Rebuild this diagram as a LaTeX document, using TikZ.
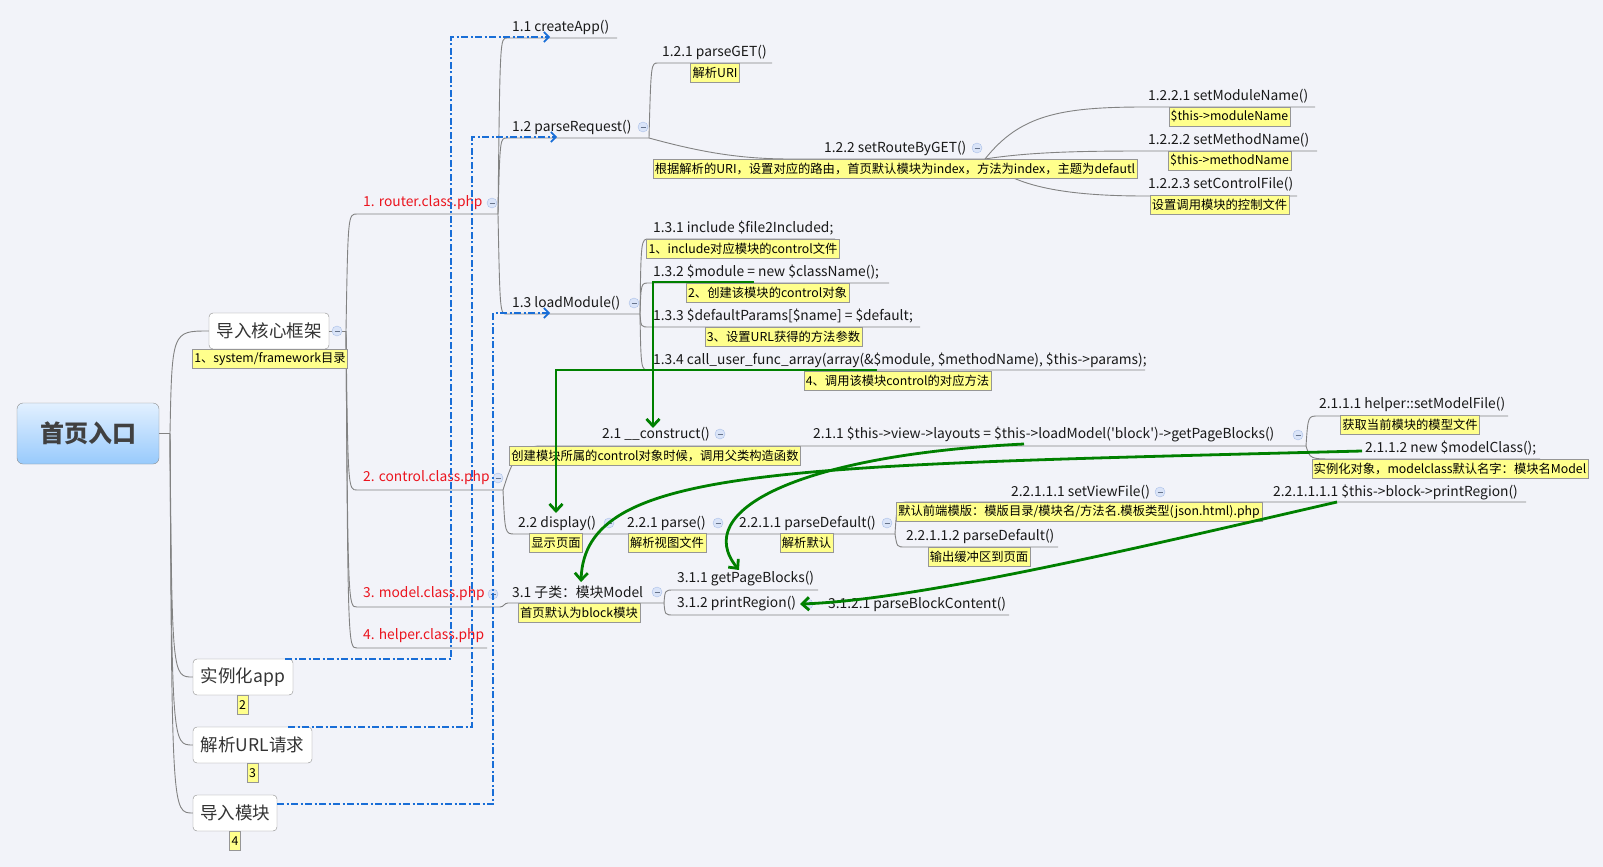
\documentclass[tikz,border=0pt]{standalone}
\usepackage{fontspec}
\setmainfont{Noto Sans CJK SC}
\usetikzlibrary{arrows.meta}

\definecolor{bgcol}{RGB}{242,243,249}
\definecolor{linegray}{RGB}{130,130,130}
\definecolor{boxline}{RGB}{140,140,140}
\definecolor{memofill}{RGB}{255,255,140}
\definecolor{memoline}{RGB}{150,150,150}
\definecolor{rootA}{RGB}{226,240,255}
\definecolor{rootB}{RGB}{152,202,252}
\definecolor{topicred}{RGB}{235,20,30}
\definecolor{linkblue}{RGB}{25,110,215}
\definecolor{flowgreen}{RGB}{0,128,0}
\definecolor{foldfill}{RGB}{218,228,248}
\definecolor{foldline}{RGB}{170,192,232}

\newcommand\fs[1]{\fontsize{#1}{#1}\selectfont}

\tikzset{
  topic/.style={anchor=west,inner sep=0pt,font=\fs{13.8},text=black!90},
  redtopic/.style={topic,text=topicred},
  memo/.style={draw=memoline,fill=memofill,inner xsep=2pt,inner ysep=0pt,minimum height=19pt,font=\fs{12.3},text=black},
  bigbox/.style={draw=boxline,fill=white,rounded corners=4pt,font=\fs{17.5},text=black!80,minimum height=36pt,inner xsep=7pt},
  fold/.style={circle,draw=foldline,fill=foldfill,minimum size=10pt,inner sep=0pt,
    path picture={\draw[foldline!60!black,line width=0.8pt] ([xshift=-2.5pt]path picture bounding box.center) -- ([xshift=2.5pt]path picture bounding box.center);}},
  branch/.style={draw=linegray,line width=0.9pt},
  dashlink/.style={draw=linkblue,line width=1.6pt,dash pattern=on 7pt off 2.5pt on 2pt off 2.5pt,-{Straight Barb[length=5pt,width=10pt]}},
  flow/.style={draw=flowgreen,line width=2.8pt,-{Straight Barb[length=7pt,width=13pt]}}
}

\begin{document}
\begin{tikzpicture}[x=1pt,y=-1pt]
\fill[bgcol] (0,0) rectangle (1603,867);
\useasboundingbox (0,0) rectangle (1603,867);

% main boxes
\node[draw=boxline,rounded corners=6pt,top color=rootA,bottom color=rootB,minimum width=142pt,minimum height=61pt,font=\fs{24}\bfseries,text=black!75] (root) at (88,433.5) {首页入口};
\node[bigbox,minimum width=120pt] (core) at (269,331) {导入核心框架};
\node[bigbox,minimum width=100pt] (app) at (243,677) {实例化app};
\node[bigbox,minimum width=119pt] (url) at (252.5,745) {解析URL请求};
\node[bigbox,minimum width=84pt] (mod) at (235,813) {导入模块};

% tree lines
\coordinate (rt) at (170,433.5);
\draw[branch] (root.east) -- (rt);
\draw[branch] (rt) .. controls (172,331) .. (core.west);
\draw[branch] (rt) .. controls (172,677) .. (app.west);
\draw[branch] (rt) .. controls (172,745) .. (url.west);
\draw[branch] (rt) .. controls (172,813) .. (mod.west);

\coordinate (ct) at (346,331);
\coordinate (u1a) at (357,214); \coordinate (u1b) at (498,214);
\coordinate (u2a) at (357,490); \coordinate (u2b) at (503,490);
\coordinate (u3a) at (357,607); \coordinate (u3b) at (500,607);
\coordinate (u4a) at (357,648); \coordinate (u4b) at (487,648);
\draw[branch] (core.east) -- (ct);
\draw[branch] (ct) .. controls (348,214) .. (u1a) -- (u1b);
\draw[branch] (ct) .. controls (348,490) .. (u2a) -- (u2b);
\draw[branch] (ct) .. controls (348,607) .. (u3a) -- (u3b);
\draw[branch] (ct) .. controls (348,648) .. (u4a) -- (u4b);

\coordinate (u11a) at (507,38); \coordinate (u11b) at (617,38);
\coordinate (u12a) at (507,138); \coordinate (u12b) at (649,138);
\coordinate (u13a) at (507,314); \coordinate (u13b) at (640,314);
\draw[branch] (u1b) .. controls (500,38) .. (u11a) -- (u11b);
\draw[branch] (u1b) .. controls (500,138) .. (u12a) -- (u12b);
\draw[branch] (u1b) .. controls (500,314) .. (u13a) -- (u13b);

\coordinate (u121a) at (658,63); \coordinate (u121b) at (772,63);
\coordinate (u122a) at (790,159); \coordinate (u122b) at (985,159);
\draw[branch] (u12b) .. controls (651,63) .. (u121a) -- (u121b);
\draw[branch] (u12b) .. controls (700,152) and (740,159) .. (u122a) -- (u122b);

\coordinate (u1221a) at (1145,107); \coordinate (u1221b) at (1315,107);
\coordinate (u1222a) at (1145,151); \coordinate (u1222b) at (1317,151);
\coordinate (u1223a) at (1145,196); \coordinate (u1223b) at (1297,196);
\draw[branch] (u122b) .. controls (1020,115) and (1060,107) .. (u1221a) -- (u1221b);
\draw[branch] (u122b) .. controls (1030,152) and (1080,151) .. (u1222a) -- (u1222b);
\draw[branch] (u122b) .. controls (1010,185) and (1060,196) .. (u1223a) -- (u1223b);

\coordinate (u131a) at (649,239); \coordinate (u131b) at (835,239);
\coordinate (u132a) at (649,283); \coordinate (u132b) at (889,283);
\coordinate (u133a) at (649,327); \coordinate (u133b) at (920,327);
\coordinate (u134a) at (649,370); \coordinate (u134b) at (1145,370);
\draw[branch] (u13b) .. controls (641,239) .. (u131a) -- (u131b);
\draw[branch] (u13b) .. controls (641,283) .. (u132a) -- (u132b);
\draw[branch] (u13b) .. controls (641,327) .. (u133a) -- (u133b);
\draw[branch] (u13b) .. controls (641,370) .. (u134a) -- (u134b);

\coordinate (u21a) at (540,446); \coordinate (u21b) at (1306,446);
\coordinate (u22a) at (515,534); \coordinate (u22b) at (895,534);
\draw[branch] (u2b) .. controls (510,468) and (516,446) .. (u21a) -- (u21b);
\draw[branch] (u2b) .. controls (505,534) .. (u22a) -- (u22b);

\coordinate (u2111a) at (1318,416); \coordinate (u2111b) at (1508,416);
\coordinate (u2112a) at (1335,459); \coordinate (u2112b) at (1540,459);
\draw[branch] (u21b) .. controls (1308,416) .. (u2111a) -- (u2111b);
\draw[branch] (u21b) .. controls (1310,459) .. (u2112a) -- (u2112b);

\coordinate (u22111a) at (910,502); \coordinate (u22111b) at (1526,502);
\coordinate (u22112a) at (905,547); \coordinate (u22112b) at (1058,547);
\draw[branch] (u22b) .. controls (897,502) .. (u22111a) -- (u22111b);
\draw[branch] (u22b) .. controls (897,547) .. (u22112a) -- (u22112b);

\coordinate (u31a) at (508,603); \coordinate (u31b) at (664,603);
\coordinate (u311a) at (674,590); \coordinate (u311b) at (818,590);
\coordinate (u312a) at (674,615); \coordinate (u312b) at (1009,615);
\draw[branch] (u3b) .. controls (504,607) and (504,603) .. (u31a) -- (u31b);
\draw[branch] (u31b) .. controls (665,590) .. (u311a) -- (u311b);
\draw[branch] (u31b) .. controls (665,615) .. (u312a) -- (u312b);

% fold marks
\node[fold] (fcore) at (337,331) {};
\node[fold] (frouter) at (492,203) {};
\node[fold] (fcontrol) at (498,478) {};
\node[fold] (fmodel) at (493,594) {};
\node[fold] (f12) at (643,127) {};
\node[fold] (f13) at (634,303) {};
\node[fold] (f122) at (977,148) {};
\node[fold] (f21) at (720,434) {};
\node[fold] (f211) at (1298,435) {};
\node[fold] (f22) at (609,523) {};
\node[fold] (f221) at (718,523) {};
\node[fold] (f2211) at (887,523) {};
\node[fold] (f22111) at (1160,492) {};
\node[fold] (f31) at (657,592) {};
\node[fold] (f312) at (808,604) {};

% topics
\node[redtopic] (router) at (363,203) {1. router.class.php};
\node[redtopic] (control) at (363,478) {2. control.class.php};
\node[redtopic] (model) at (363,594) {3. model.class.php};
\node[redtopic] (helper) at (363,636) {4. helper.class.php};
\node[topic] (t11) at (512,27) {1.1 createApp()};
\node[topic] (t12) at (512,127) {1.2 parseRequest()};
\node[topic] (t13) at (512,303) {1.3 loadModule()};
\node[topic] (t121) at (662,52) {1.2.1 parseGET()};
\node[topic] (t122) at (824,148) {1.2.2 setRouteByGET()};
\node[topic] (t1221) at (1148,96) {1.2.2.1 setModuleName()};
\node[topic] (t1222) at (1148,140) {1.2.2.2 setMethodName()};
\node[topic] (t1223) at (1148,184) {1.2.2.3 setControlFile()};
\node[topic] (t131) at (653,228) {1.3.1 include \$file2Included;};
\node[topic] (t132) at (653,272) {1.3.2 \$module = new \$className();};
\node[topic] (t133) at (653,316) {1.3.3 \$defaultParams[\$name] = \$default;};
\node[topic] (t134) at (653,360) {1.3.4 call\_user\_func\_array(array(\&\$module, \$methodName), \$this->params);};
\node[topic] (t21) at (602,434) {2.1 \_\_construct()};
\node[topic] (t211) at (813,434) {2.1.1 \$this->view->layouts = \$this->loadModel(\textquotesingle block\textquotesingle)->getPageBlocks()};
\node[topic] (t2111) at (1319,404) {2.1.1.1 helper::setModelFile()};
\node[topic] (t2112) at (1365,448) {2.1.1.2 new \$modelClass();};
\node[topic] (t22) at (518,523) {2.2 display()};
\node[topic] (t221) at (627,523) {2.2.1 parse()};
\node[topic] (t2211) at (739,523) {2.2.1.1 parseDefault()};
\node[topic] (t22111) at (1011,492) {2.2.1.1.1 setViewFile()};
\node[topic] (t22112) at (906,536) {2.2.1.1.2 parseDefault()};
\node[topic] (t221111) at (1273,492) {2.2.1.1.1.1 \$this->block->printRegion()};
\node[topic] (t31) at (512,592) {3.1 子类：模块Model};
\node[topic] (t311) at (677,579) {3.1.1 getPageBlocks()};
\node[topic] (t312) at (677,604) {3.1.2 printRegion()};
\node[topic] (t3121) at (828,604) {3.1.2.1 parseBlockContent()};

% notes
\node[memo] (n0) at (270,359) {1、system/framework目录};
\node[memo] (n2) at (242.5,705) {2};
\node[memo] (n3) at (252.5,773) {3};
\node[memo] (n4) at (235,841) {4};
\node[memo] (n121) at (715,72.5) {解析URI};
\node[memo] (n122) at (895,169) {根据解析的URI，设置对应的路由，首页默认模块为index，方法为index，主题为defautl};
\node[memo] (n1221) at (1229.5,116.5) {\$this->moduleName};
\node[memo] (n1222) at (1229.5,160.5) {\$this->methodName};
\node[memo] (n1223) at (1219.5,205) {设置调用模块的控制文件};
\node[memo] (n131) at (743,249) {1、include对应模块的control文件};
\node[memo] (n132) at (767.5,292.5) {2、创建该模块的control对象};
\node[memo] (n133) at (783.5,336.5) {3、设置URL获得的方法参数};
\node[memo] (n134) at (897.5,380.5) {4、调用该模块control的对应方法};
\node[memo] (n21) at (655,455.5) {创建模块所属的control对象时候，调用父类构造函数};
\node[memo] (n2111) at (1410,425) {获取当前模块的模型文件};
\node[memo] (n2112) at (1450,468.5) {实例化对象，modelclass默认名字：模块名Model};
\node[memo] (n22) at (556,543) {显示页面};
\node[memo] (n221) at (667,543) {解析视图文件};
\node[memo] (n2211) at (806.5,543) {解析默认};
\node[memo] (n22111) at (1079,512) {默认前端模版：模版目录/模块名/方法名.模板类型(json.html).php};
\node[memo] (n22112) at (979,557) {输出缓冲区到页面};
\node[memo] (n31) at (579,612.5) {首页默认为block模块};

% dashed links
\coordinate (a11) at (550,37);
\coordinate (a12) at (557,137);
\coordinate (a13) at (550,313);
\draw[dashlink] ([xshift=-8pt]app.north east) -- ++(166,0) |- (a11);
\draw[dashlink] ([xshift=-24pt]url.north east) -- ++(184,0) |- (a12);
\draw[dashlink] ([yshift=9pt]mod.east) -- ++(216,0) |- (a13);

% call flow
\coordinate (g1s) at (754,282); \coordinate (g1e) at (653,428);
\coordinate (g2s) at (877,370); \coordinate (g2e) at (556,513);
\coordinate (g3s) at (1024,444); \coordinate (g3e) at (739,570);
\coordinate (g4s) at (1362,451); \coordinate (g4e) at (581,582);
\coordinate (g5s) at (1337,502); \coordinate (g5e) at (800,604);
\draw[flow] (g1s) -| (g1e);
\draw[flow] (g2s) -| (g2e);
\draw[flow] (g3s) .. controls (800,455) and (690,510) .. (g3e);
\draw[flow] (g4s) .. controls (780,466) and (585,466) .. (g4e);
\draw[flow] (g5s) .. controls (1150,545) and (920,600) .. (g5e);
\end{tikzpicture}
\end{document}
